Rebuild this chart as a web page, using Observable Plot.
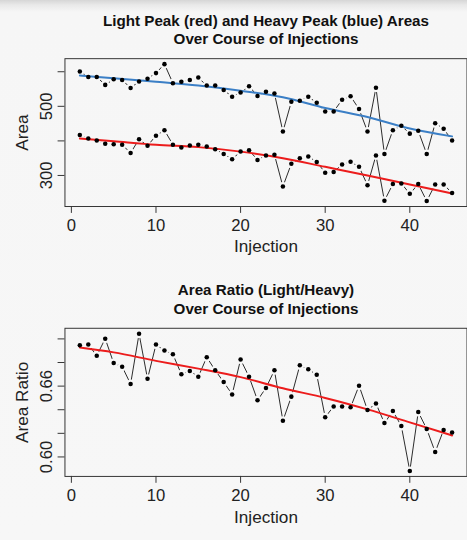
<!DOCTYPE html>
<html>
<head>
<meta charset="utf-8">
<script src="https://cdn.jsdelivr.net/npm/d3@7"></script>
<script src="https://cdn.jsdelivr.net/npm/@observablehq/plot@0.6"></script>
<style>
  html, body { margin: 0; padding: 0; }
  body {
    width: 467px; height: 540px; overflow: hidden;
    background: linear-gradient(#d6d6d6 0px, #e9e9e9 5px, #f6f6f6 12px, #f7f7f7 100%);
    font-family: "Liberation Sans", Arial, sans-serif;
  }
  #wrap { width: 467px; height: 540px; overflow: hidden; position: relative; }
  #wrap svg { display: block; background: transparent; }
</style>
</head>
<body>
<div id="wrap"></div>
<script>
// ---- data ----
const injections = d3.range(1, 46);
const heavyArea = [601,585,585,562,578,576,553,572,580,596,622,567,571,576,583,560,560,547,528,540,
                   558,530,542,537,427,513,516,528,510,485,485,519,529,492,427,554,362,431,444,421,
                   429,362,451,435,401];
const lightArea = [417,407,401,392,390,389,365,405,386,415,431,389,381,387,389,384,376,362,347,369,
                   373,345,358,360,268,334,350,355,339,308,310,332,340,325,272,358,227,275,277,247,
                   275,226,274,274,249];
const areaRatio = [0.6947,0.6952,0.6858,0.7002,0.6795,0.6765,0.6618,0.7043,0.6662,0.6952,
                   0.6902,0.6869,0.6701,0.6729,0.6679,0.6845,0.6734,0.6635,0.6530,0.6825,
                   0.6680,0.6480,0.6585,0.6734,0.6306,0.6511,0.6776,0.6742,0.6696,0.6337,
                   0.6428,0.6428,0.6420,0.6604,0.6397,0.6453,0.6287,0.6389,0.6262,0.5881,
                   0.6381,0.6237,0.6041,0.6229,0.6207];
// smoothed (loess) curves
const fitX = [1,5,10,15,20,25,30,35,40,45];
const heavyFit = [589,581,571,560,545,526,495,469,436,413];
const lightFit = [407,399,389,382,369,350,325,300,274,248];
const ratioFit = [0.6927,0.6886,0.6814,0.6748,0.6676,0.6582,0.6500,0.6403,0.6293,0.6182];

const xTicks = [0,10,20,30,40];
const areaTicks = [300,400,500,600];
const areaLabels = [300,500];
const ratioTicks = [0.60,0.62,0.64,0.66,0.68,0.70];
const ratioLabels = [0.60,0.66];

const BG = "#f7f7f7";
const BLUE = "#3b7fc6";
const RED = "#ec1c1c";
const FONT = "Liberation Sans, Arial, sans-serif";

const heavy = injections.map((x, i) => ({x, y: heavyArea[i]}));
const light = injections.map((x, i) => ({x, y: lightArea[i]}));
const ratio = injections.map((x, i) => ({x, y: areaRatio[i]}));
const hFit = fitX.map((x, i) => ({x, y: heavyFit[i]}));
const lFit = fitX.map((x, i) => ({x, y: lightFit[i]}));
const rFit = fitX.map((x, i) => ({x, y: ratioFit[i]}));

function seriesMarks(data) {
  return [
    Plot.line(data, {x: "x", y: "y", stroke: "#111", strokeWidth: 0.9}),
    Plot.dot(data, {x: "x", y: "y", r: 4.6, fill: BG, stroke: "none"})
  ];
}

function panel({top, bottom, yDomain, yTicks, yLabels, yFmt, ylabel, titles, seriesSets, fits, titleDy, xlabelDy}) {
  const H = 270;
  return Plot.plot({
    width: 476, height: H,
    marginTop: top, marginBottom: H - bottom, marginLeft: 65.7, marginRight: 0.5,
    style: {background: "transparent", fontFamily: FONT, color: "#111", overflow: "visible"},
    x: {domain: [-0.76, 46.76]},
    y: {domain: yDomain},
    marks: [
      ...seriesSets.flatMap(s => seriesMarks(s)),
      ...fits.map(f => Plot.line(f.data, {x: "x", y: "y", stroke: f.color, strokeWidth: 2, curve: "monotone-x"})),
      ...seriesSets.map(s => Plot.dot(s, {x: "x", y: "y", r: 2.3, fill: "#000"})),
      Plot.frame({stroke: "#333", strokeWidth: 1}),
      Plot.axisX({ticks: xTicks, tickSize: 7, tickPadding: 6, fontSize: 17, label: null, stroke: "#333", color: "#222"}),
      Plot.axisY({ticks: yTicks, tickSize: 7, tickFormat: () => "", label: null, stroke: "#333"}),
      Plot.text(yLabels, {y: d => d, text: d => yFmt(d), frameAnchor: "left", dx: -19, rotate: -90,
        textAnchor: "middle", lineAnchor: "middle", fontSize: 17, fill: "#222"}),
      Plot.text([ylabel], {frameAnchor: "left", dx: -43, rotate: -90, textAnchor: "middle",
        lineAnchor: "middle", fontSize: 17.5, fill: "#222"}),
      Plot.text(["Injection"], {frameAnchor: "bottom", dy: xlabelDy, textAnchor: "middle",
        lineAnchor: "middle", fontSize: 17.5, fill: "#222"}),
      Plot.text([titles[0]], {frameAnchor: "top", dy: titleDy[0], textAnchor: "middle", lineAnchor: "middle",
        fontSize: 15.5, fontWeight: "bold", fill: "#111"}),
      Plot.text([titles[1]], {frameAnchor: "top", dy: titleDy[1], textAnchor: "middle", lineAnchor: "middle",
        fontSize: 15.5, fontWeight: "bold", fill: "#111"})
    ]
  });
}

const p1 = panel({
  top: 59.3, bottom: 210,
  yDomain: [210.2, 637.8], yTicks: areaTicks, yLabels: areaLabels, yFmt: d => String(d),
  ylabel: "Area",
  titles: ["Light Peak (red) and Heavy Peak (blue) Areas", "Over Course of Injections"],
  titleDy: [-38, -20], xlabelDy: 41,
  seriesSets: [heavy, light],
  fits: [{data: hFit, color: BLUE}, {data: lFit, color: RED}]
});
const p2 = panel({
  top: 64, bottom: 215,
  yDomain: [0.5835, 0.7090], yTicks: ratioTicks, yLabels: ratioLabels, yFmt: d => d.toFixed(2),
  ylabel: "Area Ratio",
  titles: ["Area Ratio (Light/Heavy)", "Over Course of Injections"],
  titleDy: [-39, -19.5], xlabelDy: 42,
  seriesSets: [ratio],
  fits: [{data: rFit, color: RED}]
});
const wrap = document.getElementById("wrap");
wrap.appendChild(p1);
wrap.appendChild(p2);
</script>
</body>
</html>
